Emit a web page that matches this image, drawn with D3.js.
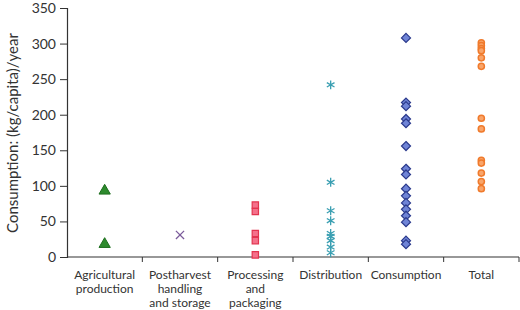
<!DOCTYPE html>
<html>
<head>
<meta charset="utf-8">
<script src="https://cdn.jsdelivr.net/npm/d3@7"></script>
<style>
  body { margin: 0; background: #fff; }
  svg text { font-family: Lato, "Noto Sans", sans-serif; fill: #333; }
</style>
</head>
<body>
<div id="chart"></div>
<script>
// categories on the x axis (label lines)
const categories = ["Agricultural production", "Postharvest handling and storage", "Processing and packaging", "Distribution", "Consumption", "Total"]
const categoryLines = [
    ["Agricultural", "production"],
    ["Postharvest", "handling", "and storage"],
    ["Processing", "and", "packaging"],
    ["Distribution"],
    ["Consumption"],
    ["Total"]
]

// values, (kg/capita)/year
const agricultural = [93, 18]
const postharvest = [31]
const processing = [73, 64, 33, 23, 3]
const distribution = [242, 105, 65, 51, 33, 29, 23, 14, 6]
const consumption = [308, 217, 212, 194, 188, 156, 124, 116, 96, 86, 76, 67, 58, 49, 23, 18]
const total = [301, 297, 293, 290, 280, 268, 195, 180, 136, 132, 118, 106, 96]

const yTicks = [0, 50, 100, 150, 200, 250, 300, 350]

const width = 520, height = 310
const margin = {top: 8, right: 1, bottom: 53, left: 67}

const svg = d3.select("#chart").append("svg")
    .attr("width", width)
    .attr("height", height)

const x = d3.scaleBand()
    .domain(categories)
    .range([margin.left, width - margin.right])

const y = d3.scaleLinear()
    .domain([0, 350])
    .range([height - margin.bottom, margin.top])

// y axis
const yAxis = svg.append("g")
    .attr("transform", "translate(" + margin.left + ",0)")
    .call(d3.axisLeft(y).tickValues(yTicks).tickSize(7).tickPadding(4))
yAxis.select(".domain").attr("stroke", "#333").attr("stroke-width", 1.2)
yAxis.selectAll(".tick line").attr("stroke", "#333")
yAxis.selectAll(".tick text")
    .style("font-size", "14px")

// x axis: line plus ticks at band boundaries
const xAxis = svg.append("g")
xAxis.append("line")
    .attr("x1", margin.left)
    .attr("x2", width - margin.right)
    .attr("y1", y(0))
    .attr("y2", y(0))
    .attr("stroke", "#333")
    .attr("stroke-width", 1.2)
xAxis.selectAll("line.tick")
    .data(categories)
    .enter()
    .append("line")
    .attr("class", "tick")
    .attr("x1", d => x(d) + x.bandwidth())
    .attr("x2", d => x(d) + x.bandwidth())
    .attr("y1", y(0))
    .attr("y2", y(0) + 5)
    .attr("stroke", "#333")

const labels = xAxis.selectAll("text.cat")
    .data(categories)
    .enter()
    .append("text")
    .attr("class", "cat")
    .attr("text-anchor", "middle")
    .style("font-size", "12px")
labels.each(function (d, i) {
    const t = d3.select(this)
    categoryLines[i].forEach((line, j) => {
        t.append("tspan")
            .attr("x", x(d) + x.bandwidth() / 2)
            .attr("y", y(0) + 22 + j * 14)
            .text(line)
    })
})

// y label
svg.append("text")
    .attr("transform", "translate(18,133) rotate(-90)")
    .attr("text-anchor", "middle")
    .style("font-size", "15px")
    .text("Consumption: (kg/capita)/year")

// one series per category
const series = [
    {cat: categories[0], values: agricultural, symbol: d3.symbolTriangle, size: 55, fill: "#2d8a2d", stroke: "#1d6e1d", sw: 1},
    {cat: categories[1], values: postharvest, symbol: d3.symbolTimes, size: 45, fill: "none", stroke: "#7b5b9b", sw: 1.3},
    {cat: categories[2], values: processing, symbol: d3.symbolSquare, size: 40, fill: "#f4708a", stroke: "#e2344f", sw: 1.2},
    {cat: categories[3], values: distribution, symbol: d3.symbolAsterisk, size: 55, fill: "none", stroke: "#3a9fb2", sw: 1.3},
    {cat: categories[4], values: consumption, symbol: d3.symbolDiamond2, size: 52, fill: "#6f84d6", stroke: "#2b3a8c", sw: 1.2},
    {cat: categories[5], values: total, symbol: d3.symbolCircle, size: 30, fill: "#f9a56a", stroke: "#f07a2c", sw: 1.5}
]

series.forEach(s => {
    svg.append("g")
        .selectAll("path")
        .data(s.values)
        .enter()
        .append("path")
        .attr("d", d3.symbol().type(s.symbol).size(s.size))
        .attr("transform", d => "translate(" + (x(s.cat) + x.bandwidth() / 2) + "," + y(d) + ")")
        .attr("fill", s.fill)
        .attr("stroke", s.stroke)
        .attr("stroke-width", s.sw)
})
</script>
</body>
</html>
